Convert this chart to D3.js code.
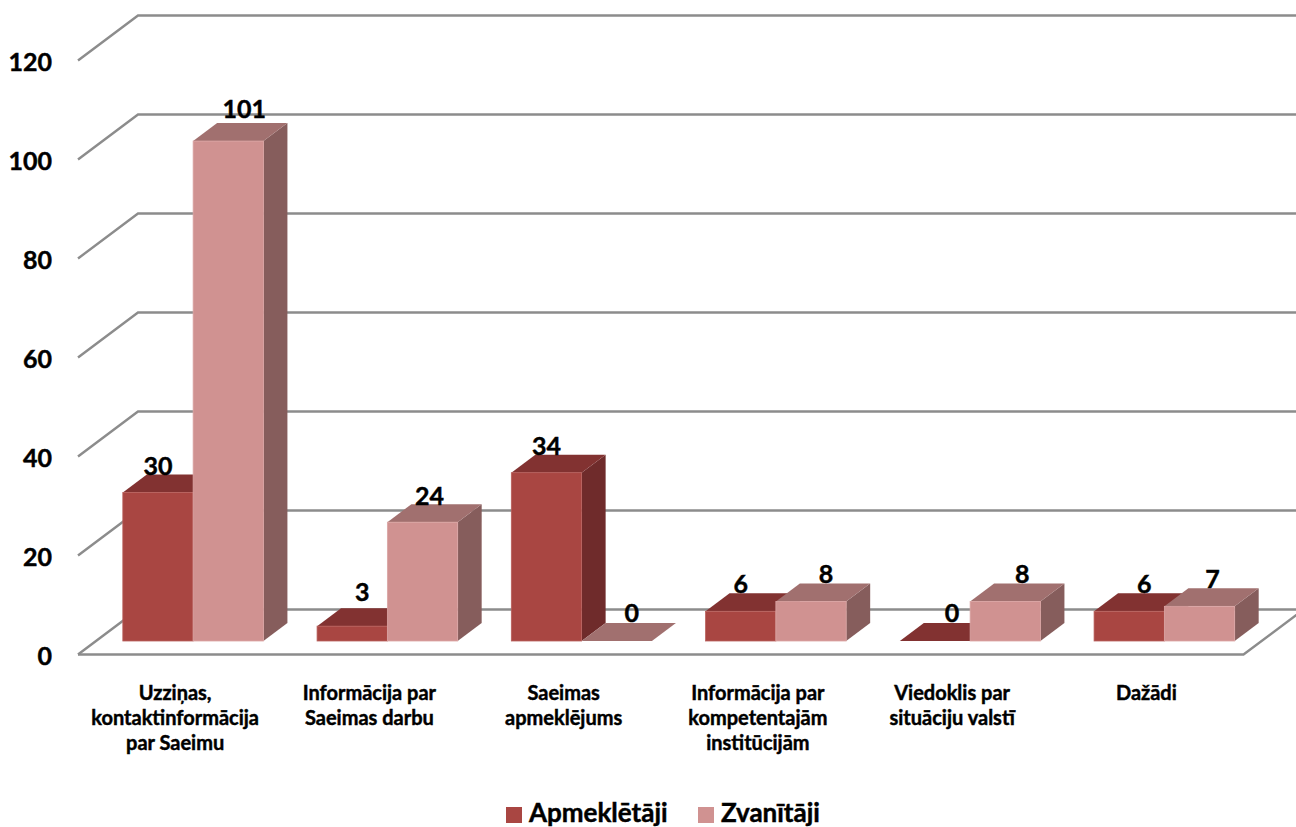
<!DOCTYPE html>
<html>
<head>
<meta charset="utf-8">
<script src="https://cdnjs.cloudflare.com/ajax/libs/d3/7.8.5/d3.min.js"></script>
<style>
html,body{margin:0;padding:0;background:#fff;overflow:hidden}
svg{display:block}
text{font-family:Lato,"Open Sans",sans-serif;font-weight:700;fill:#000;stroke:#000;stroke-width:0.45px}
</style>
</head>
<body>
<script>
const categories = [
  ["Uzziņas,", "kontaktinformācija", "par Saeimu"],
  ["Informācija par", "Saeimas darbu"],
  ["Saeimas", "apmeklējums"],
  ["Informācija par", "kompetentajām", "institūcijām"],
  ["Viedoklis par", "situāciju valstī"],
  ["Dažādi"]
];
const seriesNames = ["Apmeklētāji", "Zvanītāji"];
const apmekletaji = [30, 3, 34, 6, 0, 6];
const zvanitaji = [101, 24, 0, 8, 8, 7];
const yTicks = [0, 20, 40, 60, 80, 100, 120];

const W = 1296, H = 827;
const svg = d3.select("body").append("svg").attr("width", W).attr("height", H);

// Oblique projection: depth d moves a point right by d and up by 0.75*d
const project = (px, py, d) => [px + d, py - d * 0.75];

const x0 = d3.scaleBand().domain(d3.range(categories.length)).range([78, 1243.5]);
const y = d3.scaleLinear().domain([0, 120]).range([654.5, 60.5]);

const floorDepth = 60, barFront = 18, barDepth = 24, barWidth = 70.3;

// Walls, gridlines and floor
const gridColor = "#8c8c8c";
const grid = svg.append("g").attr("fill", "none").attr("stroke", gridColor).attr("stroke-width", 2.4);
yTicks.forEach(v => {
  const a = project(78, y(v), 0), b = project(78, y(v), floorDepth), c = project(1304, y(v), floorDepth);
  grid.append("path").attr("d", d3.line()([a, b, c]));
});
const fl = [project(78, y(0), 0), project(1243.5, y(0), 0), project(1243.5, y(0), floorDepth)];
grid.append("path").attr("d", d3.line()(fl));

// Bars
const colors = [
  {front: "#a94642", top: "#823231", side: "#6f2b2b", edge: "#b8605c"},
  {front: "#d09291", top: "#a1706f", side: "#865d5c", edge: "#dba5a4"}
];
const series = [apmekletaji, zvanitaji];
const poly = pts => d3.line()(pts) + "Z";
const barLeft = (i, s) => x0(i) + x0.bandwidth() / 2 - barWidth + s * barWidth;

categories.forEach((_, i) => {
  series.forEach((vals, s) => {
    const v = vals[i];
    const left = barLeft(i, s);
    const right = left + barWidth;
    const by = y(0), ty = y(v);
    const c = colors[s];
    const g = svg.append("g");
    g.append("path").attr("fill", c.side).attr("d", poly([
      project(right, by, barFront), project(right, ty, barFront),
      project(right, ty, barFront + barDepth), project(right, by, barFront + barDepth)
    ]));
    g.append("path").attr("fill", c.top).attr("d", poly([
      project(left, ty, barFront), project(right, ty, barFront),
      project(right, ty, barFront + barDepth), project(left, ty, barFront + barDepth)
    ]));
    if (v > 0) {
      const p = project(left, ty, barFront);
      g.append("rect").attr("x", p[0]).attr("y", p[1])
        .attr("width", barWidth).attr("height", by - ty)
        .attr("fill", c.front).attr("stroke", c.edge).attr("stroke-width", 0.8);
    }
  });
});

// Data labels: hand-placed in the original, so each has a small nudge
const labelNudge = [
  [[0, 28], [16, 33]], [[10, 35], [7, 27]], [[0, 28], [15, 29]],
  [[0, 28], [15, 28]], [[17, 29], [17, 28]], [[15, 28], [13, 28]]
];
const labels = svg.append("g").attr("text-anchor", "middle").attr("font-size", 25);
categories.forEach((_, i) => {
  series.forEach((vals, s) => {
    const v = vals[i];
    const p = project(barLeft(i, s) + barWidth / 2, y(v), barFront);
    const n = labelNudge[i][s];
    labels.append("text").attr("x", p[0] + n[0]).attr("y", p[1] - n[1] + 10).text(v);
  });
});

// Y axis
const axis = svg.append("g").attr("transform", "translate(52,2)")
  .call(d3.axisLeft(y).tickValues(yTicks).tickSize(0).tickPadding(0));
axis.select(".domain").remove();
axis.selectAll("text").attr("font-size", 25).style("font-family", "Lato,'Open Sans',sans-serif").style("font-weight", 700).attr("fill", "#000");

// Category labels
const cat = svg.append("g").attr("text-anchor", "middle").attr("font-size", 20);
categories.forEach((lines, i) => {
  const cx = x0(i) + x0.bandwidth() / 2;
  lines.forEach((ln, k) => {
    cat.append("text").attr("x", cx).attr("y", 700 + k * 25).text(ln);
  });
});

// Legend
const legendX = [506, 698];
seriesNames.forEach((name, s) => {
  svg.append("rect").attr("x", legendX[s]).attr("y", 807).attr("width", 16).attr("height", 16).attr("fill", colors[s].front);
  svg.append("text").attr("x", legendX[s] + 23).attr("y", 822).attr("font-size", 26).text(name);
});
</script>
</body>
</html>
